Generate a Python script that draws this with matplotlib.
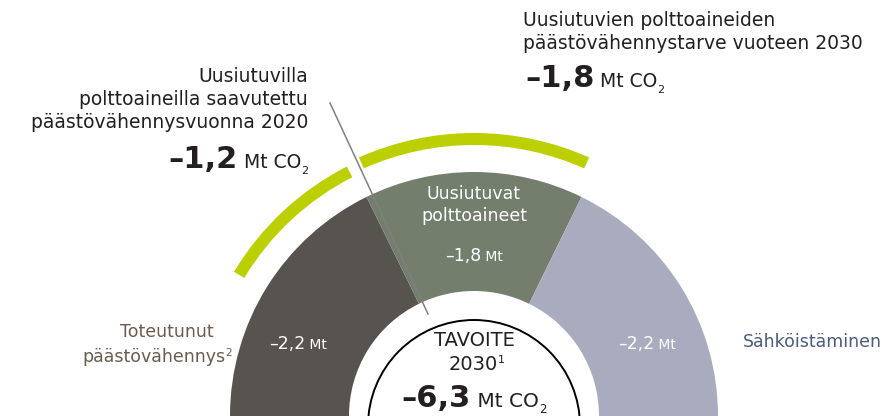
import numpy as np
import matplotlib
matplotlib.use("Agg")
import matplotlib.pyplot as plt
from matplotlib.patches import Wedge, Circle

# Data
segments = ["Toteutunut\npäästövähennys", "Uusiutuvat\npolttoaineet", "Sähköistäminen"]
values = [2.2, 1.8, 2.2]
value_labels = ["–2,2", "–1,8", "–2,2"]
colors = ["#57534f", "#737e6d", "#a8acbe"]
achieved = 1.2      # saavutettu 2020
needed = 1.8        # tarve 2030
target = "–6,3"

plt.rcParams["font.family"] = ["DejaVu Sans"]
txt = "#231f20"

fig = plt.figure(figsize=(8.9, 4.16), dpi=100)
ax = fig.add_axes([0, 0, 1, 1])
ax.set_xlim(0, 890)
ax.set_ylim(0, 416)
ax.axis("off")

cx, cy = 474, 0
R, r_in = 244, 125

# Puoliympyrän sektorit
start = 180
tot = sum(values)
for v, c in zip(values, colors):
    span = v / tot * 180
    ax.add_patch(Wedge((cx, cy), R, start - span, start, width=R - r_in, color=c, lw=0, zorder=1))
    start -= span

# Lime-kaaret
k = 80 / (achieved + needed)
a_right = 66
ax.add_patch(Wedge((cx, cy), 283, a_right, a_right + needed * k, width=12, color="#bccf00", lw=0, zorder=1))
a_left = a_right + needed * k + 3
ax.add_patch(Wedge((cx, cy), 280, a_left, a_left + achieved * k, width=12, color="#bccf00", lw=0, zorder=1))

# Viiva
ax.plot([330, 428], [313, 102], color="#808080", lw=1.1, zorder=2)

# Keskiympyrä
ax.add_patch(Circle((cx, -10), 106, facecolor="white", edgecolor="black", lw=1.4, zorder=3))

fig.canvas.draw()
rend = fig.canvas.get_renderer()


def rich(x, y, parts, ha="left", color=txt):
    # parts: (teksti, koko, paino, y-siirto)
    objs = []
    for s, size, w, dy in parts:
        t = ax.text(0, y + dy, s, fontsize=size, fontweight=w, color=color, va="baseline", ha="left", zorder=5)
        objs.append(t)
    widths = [t.get_window_extent(rend).width for t in objs]
    total = sum(widths)
    if ha == "right":
        x0 = x - total
    elif ha == "center":
        x0 = x - total / 2
    else:
        x0 = x
    for t, w in zip(objs, widths):
        t.set_x(x0)
        x0 += w


# Vasen huomautus
for i, line in enumerate(["Uusiutuvilla", "polttoaineilla saavutettu", "päästövähennysvuonna 2020"]):
    ax.text(308, 334 - i * 23, line, fontsize=13.5, color=txt, ha="right", va="baseline")
rich(308, 248, [("–" + f"{achieved:.1f}".replace(".", ","), 22, "bold", 0),
                (" Mt CO", 13.5, "normal", 0), ("2", 8, "normal", -6)], ha="right")

# Oikea huomautus
ax.text(523, 390, "Uusiutuvien polttoaineiden", fontsize=13.5, color=txt, ha="left", va="baseline")
ax.text(523, 367, "päästövähennystarve vuoteen 2030", fontsize=13.5, color=txt, ha="left", va="baseline")
rich(525, 329, [("–" + f"{needed:.1f}".replace(".", ","), 22, "bold", 0),
                (" Mt CO", 13.5, "normal", 0), ("2", 8, "normal", -6)])

# Sektorien tekstit
rich(298, 67, [(value_labels[0], 12.5, "normal", 0), (" Mt", 10, "normal", 0)], ha="center", color="white")
rich(647, 67, [(value_labels[2], 12.5, "normal", 0), (" Mt", 10, "normal", 0)], ha="center", color="white")
ax.text(cx, 217, "Uusiutuvat", fontsize=12.5, color="white", ha="center", va="baseline", zorder=5)
ax.text(cx, 195, "polttoaineet", fontsize=12.5, color="white", ha="center", va="baseline", zorder=5)
rich(cx, 155, [(value_labels[1], 12.5, "normal", 0), (" Mt", 10, "normal", 0)], ha="center", color="white")

# Sivutekstit
ax.text(214, 79, "Toteutunut", fontsize=12.5, color="#6b5b4e", ha="right", va="baseline")
rich(232, 54, [("päästövähennys", 12.5, "normal", 0), ("2", 7.5, "normal", 6)], ha="right", color="#6b5b4e")
ax.text(743, 69, "Sähköistäminen", fontsize=12.5, color="#4b5a7e", ha="left", va="baseline")

# Keskusteksti
ax.text(cx, 70, "TAVOITE", fontsize=14, color=txt, ha="center", va="baseline", zorder=5)
rich(cx + 3, 46, [("2030", 14, "normal", 0), ("1", 8, "normal", 7)], ha="center")
rich(cx, 9, [(target, 22, "bold", 0), (" Mt CO", 14.5, "normal", 0), ("2", 8.5, "normal", -6)], ha="center")

fig.savefig("out.png", dpi=100)
